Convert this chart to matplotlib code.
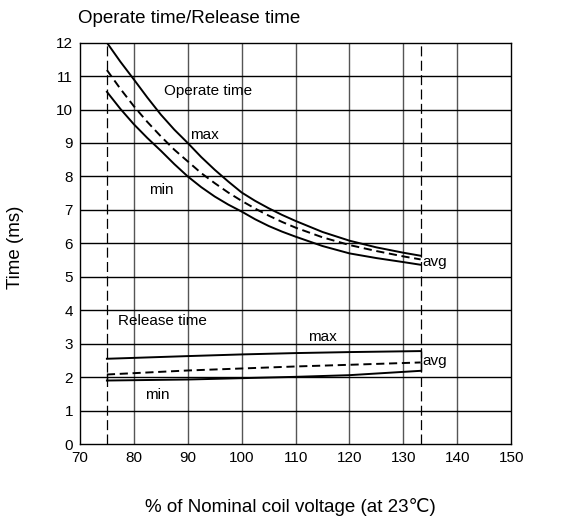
import matplotlib
matplotlib.use("Agg")
import matplotlib.pyplot as plt

plt.rcParams['font.family'] = ['Liberation Sans', 'DejaVu Sans']

# Operate time curves
op_x = [75, 77.5, 80, 82.5, 85, 87.5, 90, 92.5, 95, 97.5, 100, 102.5, 105, 107.5,
        110, 115, 120, 125, 130, 133.2]
op_max = [12.0, 11.43, 10.9, 10.36, 9.85, 9.4, 9.0, 8.58, 8.2, 7.85, 7.52, 7.27,
          7.05, 6.85, 6.67, 6.34, 6.08, 5.88, 5.72, 5.63]
op_avg = [11.18, 10.62, 10.1, 9.63, 9.2, 8.8, 8.45, 8.1, 7.8, 7.52, 7.27, 7.04,
          6.83, 6.64, 6.47, 6.18, 5.95, 5.77, 5.61, 5.52]
op_min = [10.53, 10.02, 9.56, 9.15, 8.77, 8.37, 8.0, 7.68, 7.4, 7.16, 6.95, 6.72,
          6.52, 6.35, 6.2, 5.92, 5.7, 5.56, 5.44, 5.36]

# Release time curves
rel_x = [75, 90, 100, 110, 120, 133.2]
rel_max = [2.55, 2.63, 2.68, 2.72, 2.75, 2.78]
rel_avg = [2.08, 2.2, 2.26, 2.32, 2.37, 2.44]
rel_min = [1.9, 1.93, 1.97, 2.01, 2.06, 2.19]

xticks = [70, 80, 90, 100, 110, 120, 130, 140, 150]
yticks = list(range(0, 13))
limits_x = [75, 133.2]

fig = plt.figure(figsize=(5.63, 5.2), dpi=100)
ax = fig.add_axes([0.142, 0.146, 0.766, 0.772])
ax.set_xlim(70, 150)
ax.set_ylim(0, 12)
ax.set_xticks(xticks)
ax.set_yticks(yticks)
ax.tick_params(length=0, labelsize=11, pad=5)
for x in xticks[1:-1]:
    ax.axvline(x, color='#555555', lw=1.0, zorder=1)
for y in yticks[1:-1]:
    ax.axhline(y, color='black', lw=1.0, zorder=1)
for x in limits_x:
    ax.axvline(x, color='black', lw=0.9, ls=(0, (8, 3.5)), zorder=2)
for s in ax.spines.values():
    s.set_linewidth(1.0)

dash = (0, (4.2, 2.4))
ax.plot(op_x, op_max, color='black', lw=1.4, zorder=3)
ax.plot(op_x, op_avg, color='black', lw=1.4, ls=dash, zorder=3)
ax.plot(op_x, op_min, color='black', lw=1.4, zorder=3)
ax.plot(rel_x, rel_max, color='black', lw=1.4, zorder=3)
ax.plot(rel_x, rel_avg, color='black', lw=1.4, ls=dash, zorder=3)
ax.plot(rel_x, rel_min, color='black', lw=1.4, zorder=3)
# small end brackets joining release curves
ax.vlines([rel_x[0], rel_x[-1]], [rel_min[0], rel_min[-1]], [rel_avg[0], rel_avg[-1]],
          color='black', lw=1.0, zorder=3)
ax.vlines([rel_x[-1]], [rel_avg[-1]], [rel_max[-1]], color='black', lw=1.0, zorder=3)

fs = 11
ax.text(85.6, 10.55, "Operate time", fontsize=fs, va='center', ha='left')
ax.text(90.5, 9.25, "max", fontsize=fs, va='center', ha='left')
ax.text(82.8, 7.6, "min", fontsize=fs, va='center', ha='left')
ax.text(133.6, 5.45, "avg", fontsize=fs, va='center', ha='left')
ax.text(77.0, 3.68, "Release time", fontsize=fs, va='center', ha='left')
ax.text(112.3, 3.2, "max", fontsize=fs, va='center', ha='left')
ax.text(133.6, 2.47, "avg", fontsize=fs, va='center', ha='left')
ax.text(82.0, 1.47, "min", fontsize=fs, va='center', ha='left')

fig.text(0.139, 0.965, "Operate time/Release time", fontsize=13.5, va='center', ha='left')
fig.text(0.028, 0.525, "Time (ms)", fontsize=13.5, va='center', ha='center', rotation=90)
fig.text(0.515, 0.025, "% of Nominal coil voltage (at 23\u2103)", fontsize=13.5,
         va='center', ha='center')

fig.savefig("out.png", dpi=100)
